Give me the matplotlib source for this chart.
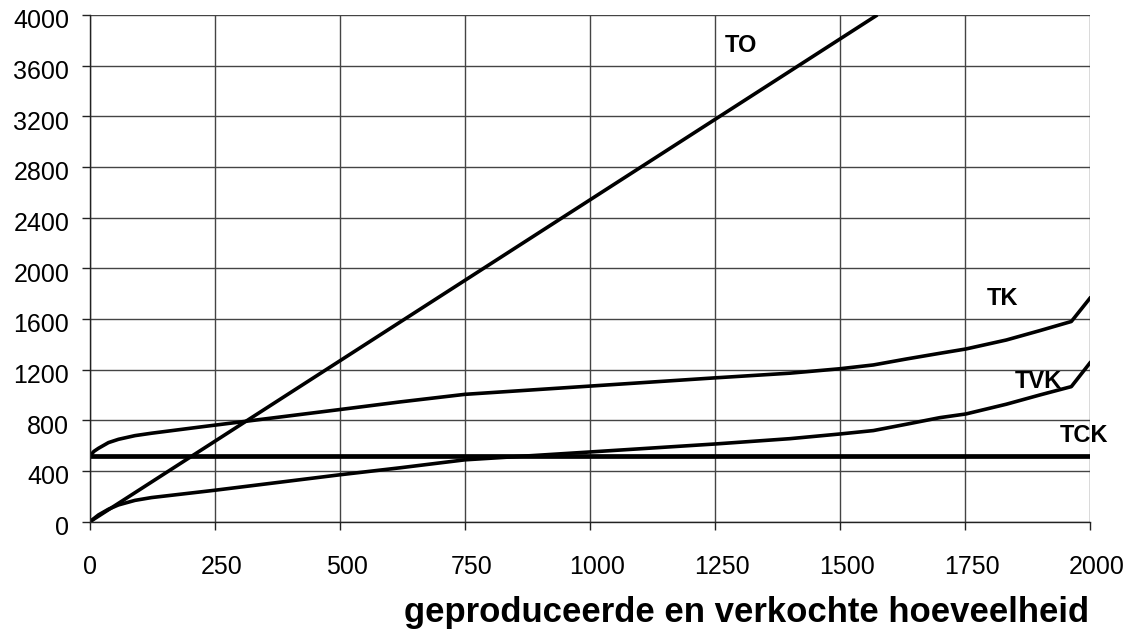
import matplotlib
matplotlib.use("Agg")
import matplotlib.pyplot as plt
import matplotlib.transforms as mtransforms

plt.rcParams["font.family"] = ["Liberation Sans", "DejaVu Sans"]

# data
to_x = [0, 1575]
to_y = [0, 4000]

tck_x = [0, 2000]
tck_y = [520, 520]

tvk_x = [0, 8, 17, 37, 57, 90, 123, 250, 500, 620, 750, 1000, 1250,
         1400, 1500, 1567, 1633, 1700, 1752, 1833, 1900, 1963, 2000]
tvk_y = [0, 25, 53, 98, 132, 168, 190, 248, 370, 425, 488, 550, 613,
         655, 692, 719, 769, 821, 850, 927, 1000, 1066, 1252]

tk_x = [0, 8, 17, 37, 57, 90, 123, 230, 500, 620, 750, 1000, 1250,
        1400, 1500, 1567, 1633, 1700, 1752, 1833, 1900, 1963, 2000]
tk_y = [520, 555, 579, 624, 650, 679, 698, 752, 885, 945, 1005, 1070, 1135,
        1172, 1207, 1237, 1284, 1329, 1363, 1434, 1508, 1580, 1763]

x_ticks = [0, 250, 500, 750, 1000, 1250, 1500, 1750, 2000]
y_ticks = [0, 400, 800, 1200, 1600, 2000, 2400, 2800, 3200, 3600, 4000]

labels = ["TO", "TK", "TVK", "TCK"]
label_pos = [(1270, 3760), (1794, 1765), (1850, 1110), (1940, 684)]

fig = plt.figure(figsize=(11.46, 6.35), dpi=100)
ax = fig.add_axes([0.0785, 0.1785, 0.8725, 0.798])

ax.plot(to_x, to_y, color="black", lw=2.6, solid_capstyle="butt")
ax.plot(tk_x, tk_y, color="black", lw=2.6, solid_joinstyle="round")
ax.plot(tvk_x, tvk_y, color="black", lw=2.6, solid_joinstyle="round")
ax.plot(tck_x, tck_y, color="black", lw=3.4, solid_capstyle="butt")

for name, (lx, ly) in zip(labels, label_pos):
    ax.text(lx, ly, name, fontsize=17, fontweight="bold", ha="left", va="center")

ax.set_xlim(0, 2000)
ax.set_ylim(0, 4000)
ax.set_xticks(x_ticks)
ax.set_yticks(y_ticks)
ax.grid(True, color="#444444", lw=1.0)
ax.set_axisbelow(True)

for side in ["top", "right"]:
    ax.spines[side].set_visible(False)
for side in ["left", "bottom"]:
    ax.spines[side].set_color("#222222")
    ax.spines[side].set_linewidth(1.0)

ax.tick_params(direction="out", length=6, width=1.0, color="#222222",
               labelsize=18)
ax.tick_params(axis="x", pad=18)
ax.tick_params(axis="y", pad=9)

# labels in the original sit a little right / low of their ticks
x_shift = mtransforms.ScaledTranslation(0.07, 0, fig.dpi_scale_trans)
for lbl in ax.get_xticklabels()[1:]:
    lbl.set_transform(lbl.get_transform() + x_shift)
y_shift = mtransforms.ScaledTranslation(0, -0.04, fig.dpi_scale_trans)
for lbl in ax.get_yticklabels():
    lbl.set_transform(lbl.get_transform() + y_shift)

fig.text(0.9505, 0.021, "geproduceerde en verkochte hoeveelheid",
         fontsize=25, fontweight="bold", ha="right", va="baseline")

fig.savefig("out.png", dpi=100)
